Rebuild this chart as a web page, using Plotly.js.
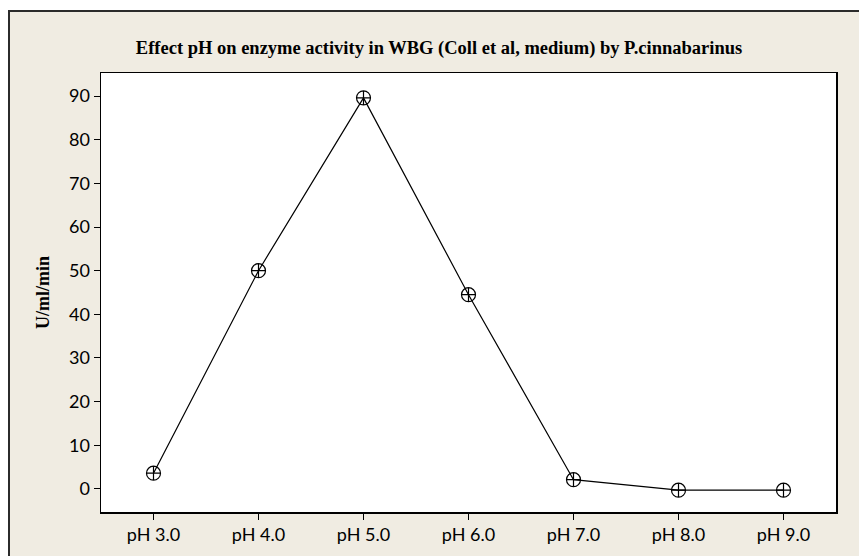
<!DOCTYPE html>
<html>
<head>
<meta charset="utf-8">
<script src="https://cdn.plot.ly/plotly-3.0.1.min.js"></script>
<style>
  html, body { margin: 0; padding: 0; background: #ffffff; overflow: hidden; }
  #chart { position: absolute; left: 8px; top: 10px; border-left: 2px solid #2b2b2b; border-top: 2px solid #2b2b2b; width: 849px; height: 544px; }
</style>
</head>
<body>
<div id="chart"></div>
<script>
const categories = ["pH 3.0", "pH 4.0", "pH 5.0", "pH 6.0", "pH 7.0", "pH 8.0", "pH 9.0"];
const activity = [3.6, 50.0, 89.6, 44.5, 2.1, -0.3, -0.3];
const yTicks = [0, 10, 20, 30, 40, 50, 60, 70, 80, 90];

const trace = {
  x: categories,
  y: activity,
  type: "scatter",
  mode: "lines+markers",
  line: { color: "#000000", width: 1.2 },
  marker: { symbol: "circle-cross-open", size: 14, color: "#000000", line: { width: 1.2, color: "#000000" } },
  hoverinfo: "x+y"
};

const layout = {
  width: 849,
  height: 544,
  paper_bgcolor: "#F0ECE2",
  plot_bgcolor: "#FFFFFF",
  margin: { l: 91, r: 23, t: 61, b: 44 },
  showlegend: false,
  title: {
    text: "<b>Effect pH on enzyme activity in WBG (Coll et al, medium) by P.cinnabarinus</b>",
    font: { family: "Liberation Serif, Times New Roman, serif", size: 18.5, color: "#000000" },
    x: (439 - 10) / 849, xanchor: "center", xref: "container",
    y: 1 - 36 / 544, yanchor: "middle", yref: "container"
  },
  xaxis: {
    type: "category",
    range: [-0.5, 6.5],
    showgrid: false,
    zeroline: false,
    showline: true, linecolor: "#000000", linewidth: 1.5, mirror: true,
    ticks: "outside", ticklen: 6, tickwidth: 1, tickcolor: "#000000",
    tickfont: { family: "Lato, Open Sans, sans-serif", size: 18, color: "#000000" },
    fixedrange: true
  },
  yaxis: {
    range: [-5.3, 95.3],
    tickvals: yTicks,
    ticktext: yTicks.map(String),
    showgrid: false,
    zeroline: false,
    showline: true, linecolor: "#000000", linewidth: 1.5, mirror: true,
    ticks: "outside", ticklen: 6, tickwidth: 1, tickcolor: "#000000",
    tickfont: { family: "Lato, Open Sans, sans-serif", size: 18, color: "#000000" },
    title: {
      text: "<b>U/ml/min</b>",
      font: { family: "Liberation Serif, Times New Roman, serif", size: 18, color: "#000000" },
      standoff: 14
    },
    automargin: false,
    fixedrange: true
  }
};

Plotly.newPlot("chart", [trace], layout, { displayModeBar: false, staticPlot: true });
</script>
</body>
</html>
